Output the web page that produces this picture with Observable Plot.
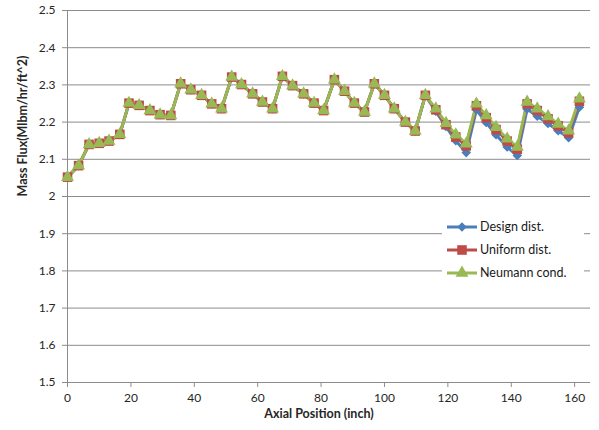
<!DOCTYPE html>
<html><head><meta charset="utf-8">
<script src="https://cdn.jsdelivr.net/npm/d3@7"></script>
<script src="https://cdn.jsdelivr.net/npm/@observablehq/plot@0.6"></script>
<style>
html,body{margin:0;padding:0;background:#fff;}
#chart{width:599px;height:430px;}
</style></head><body><div id="chart"></div>
<script>
const axialPosition = [0, 3.5, 6.8, 10, 13.1, 16.5, 19.4, 22.6, 26, 29.2,
  32.6, 35.7, 38.9, 42.3, 45.5, 48.6, 51.8, 54.9, 58.4, 61.5,
  64.7, 67.8, 71, 74.5, 77.8, 80.8, 84.2, 87.4, 90.5, 93.7,
  96.8, 100, 103.1, 106.6, 109.7, 112.9, 116.2, 119.4, 122.5, 125.8,
  129, 132.1, 135.2, 138.7, 141.9, 145, 148.2, 151.6, 154.8, 158.1, 161.5];

const designDist = [2.052, 2.083, 2.140, 2.143, 2.149, 2.167, 2.251, 2.245, 2.231, 2.220,
  2.218, 2.303, 2.287, 2.272, 2.249, 2.236, 2.321, 2.301, 2.276, 2.254,
  2.236, 2.323, 2.298, 2.276, 2.251, 2.231, 2.314, 2.283, 2.251, 2.227,
  2.303, 2.272, 2.236, 2.200, 2.176, 2.272, 2.229, 2.188, 2.150, 2.118,
  2.233, 2.199, 2.166, 2.133, 2.110, 2.235, 2.216, 2.196, 2.177, 2.158, 2.240];

const uniformDist = [2.052, 2.083, 2.140, 2.143, 2.149, 2.167, 2.251, 2.245, 2.231, 2.220,
  2.218, 2.303, 2.287, 2.272, 2.249, 2.236, 2.321, 2.301, 2.276, 2.254,
  2.236, 2.323, 2.298, 2.276, 2.251, 2.231, 2.314, 2.283, 2.251, 2.227,
  2.303, 2.272, 2.236, 2.200, 2.176, 2.272, 2.233, 2.193, 2.160, 2.136,
  2.244, 2.212, 2.180, 2.149, 2.127, 2.249, 2.231, 2.209, 2.190, 2.171, 2.256];

const neumannCond = [2.052, 2.083, 2.140, 2.143, 2.149, 2.167, 2.251, 2.245, 2.231, 2.220,
  2.218, 2.303, 2.287, 2.272, 2.249, 2.236, 2.321, 2.301, 2.276, 2.254,
  2.236, 2.323, 2.298, 2.276, 2.251, 2.231, 2.314, 2.283, 2.251, 2.227,
  2.303, 2.272, 2.236, 2.200, 2.176, 2.272, 2.236, 2.197, 2.166, 2.142,
  2.249, 2.218, 2.186, 2.155, 2.133, 2.254, 2.236, 2.215, 2.195, 2.177, 2.263];

const seriesNames = ["Design dist.", "Uniform dist.", "Neumann cond."];
const yTicks = [1.5, 1.6, 1.7, 1.8, 1.9, 2.0, 2.1, 2.2, 2.3, 2.4, 2.5];
const xTicks = [0, 20, 40, 60, 80, 100, 120, 140, 160];
const xTitle = "Axial Position (inch)";
const yTitle = "Mass Flux(Mlbm/hr/ft^2)";

const colors = ["#4A7EBB", "#BE4B48", "#98B954"];
const symbols = ["diamond2", "square", "triangle"];
const radii = [4.3, 5.4, 4.8];
const seriesValues = [designDist, uniformDist, neumannCond];

const rows = seriesNames.map((name, i) =>
  axialPosition.map((x, j) => ({series: name, x, y: seriesValues[i][j]})));

const marks = [
  Plot.gridY(yTicks, {stroke: "#8c8c8c", strokeOpacity: 1, strokeWidth: 1}),
  Plot.ruleX([0], {stroke: "#8c8c8c"}),
  Plot.axisY(yTicks, {tickSize: 5, tickPadding: 7, tickFormat: d3.format("~f"), label: null, stroke: "#8c8c8c"}),
  Plot.axisX(xTicks, {tickSize: 5, tickPadding: 6, label: null, stroke: "#8c8c8c"})
];
rows.forEach((data, i) => {
  marks.push(Plot.line(data, {x: "x", y: "y", stroke: colors[i], strokeWidth: 3}));
});
rows.forEach((data, i) => {
  marks.push(Plot.dot(data, {x: "x", y: "y", symbol: () => symbols[i], r: radii[i], fill: colors[i], stroke: "none"}));
});
marks.push(Plot.text([xTitle], {text: d => d, frameAnchor: "bottom", dy: 35, dx: -10, fontWeight: "bold", fontSize: 12.5}));
marks.push(Plot.text([yTitle], {text: d => d, frameAnchor: "left", dx: -45, rotate: -90, fontWeight: "bold", fontSize: 12.5}));

const svg = Plot.plot({
  width: 599, height: 430,
  marginLeft: 67, marginRight: 9, marginTop: 10, marginBottom: 48,
  style: {fontFamily: "Lato, 'Open Sans', sans-serif", fontSize: "12px", color: "#262626", background: "#fff"},
  x: {domain: [0, 165]},
  y: {domain: [1.5, 2.5]},
  symbol: {type: "identity"},
  marks
});

// legend
const lg = d3.select(svg).append("g").attr("font-family", "Lato, 'Open Sans', sans-serif").attr("font-size", 12.5).attr("text-anchor", "start");
lg.append("rect").attr("x", 442).attr("y", 213).attr("width", 142).attr("height", 72).attr("fill", "#fff");
const symTypes = [d3.symbolDiamond2, d3.symbolSquare, d3.symbolTriangle];
seriesNames.forEach((name, i) => {
  const yy = 227 + i * 23;
  lg.append("line").attr("x1", 447).attr("x2", 477).attr("y1", yy).attr("y2", yy)
    .attr("stroke", colors[i]).attr("stroke-width", 3);
  lg.append("path").attr("d", d3.symbol(symTypes[i], Math.PI * radii[i] * radii[i])())
    .attr("transform", `translate(462,${yy})`).attr("fill", colors[i]);
  lg.append("text").attr("x", 480).attr("y", yy).attr("dy", "0.35em").attr("text-anchor", "start").attr("fill", "#1a1a1a").text(name);
});

document.getElementById("chart").append(svg);
</script>
</body></html>
